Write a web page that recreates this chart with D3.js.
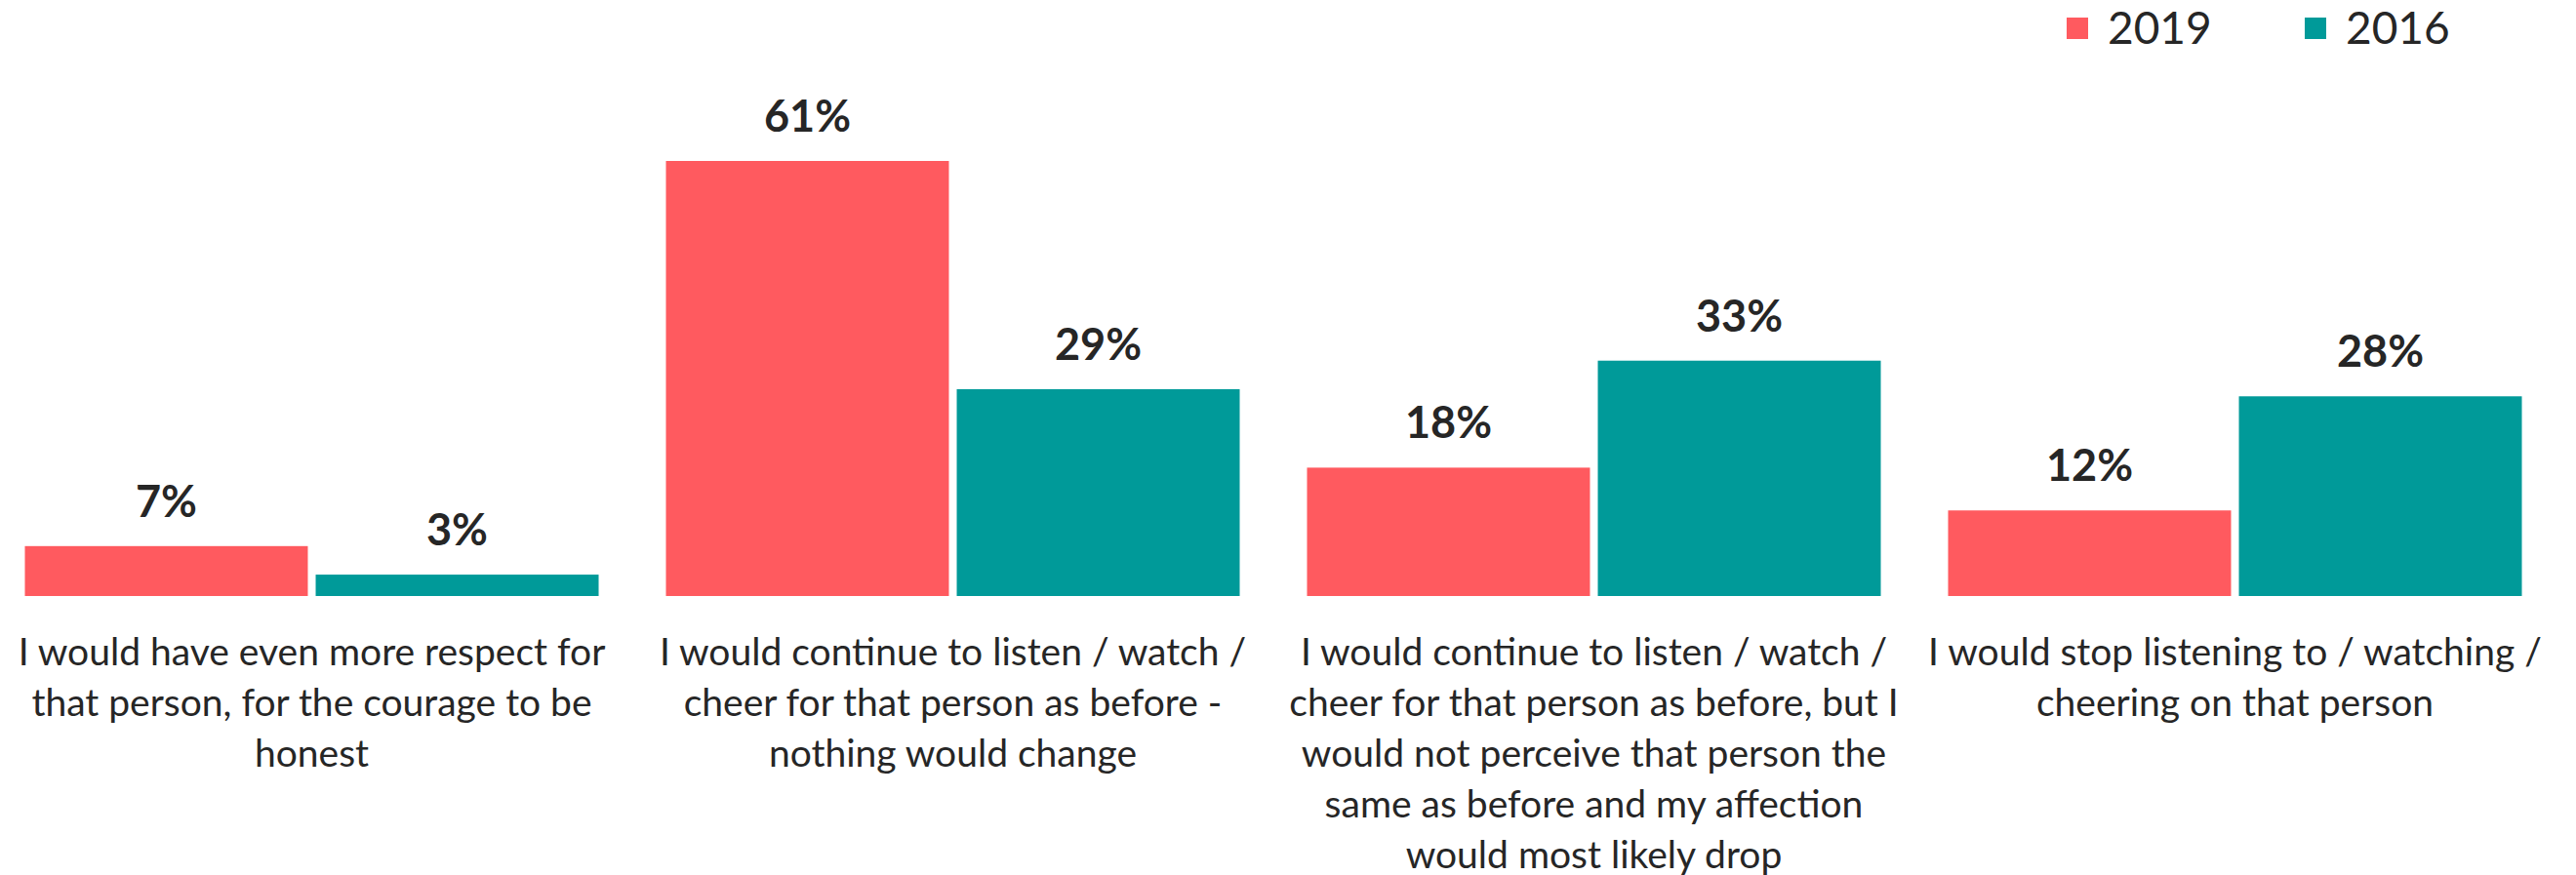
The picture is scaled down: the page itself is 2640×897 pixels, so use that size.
<!DOCTYPE html>
<html>
<head>
<meta charset="utf-8">
<script src="https://cdn.jsdelivr.net/npm/d3@7/dist/d3.min.js"></script>
<style>
  body { margin: 0; background: #fff; }
  text { font-family: Lato, "Noto Sans", sans-serif; fill: #262626; }
</style>
</head>
<body>
<svg class="chart"></svg>
<script>
// chart data
let categories = [
    "I would have even more respect for\nthat person, for the courage to be\nhonest",
    "I would continue to listen / watch /\ncheer for that person as before -\nnothing would change",
    "I would continue to listen / watch /\ncheer for that person as before, but I\nwould not perceive that person the\nsame as before and my affection\nwould most likely drop",
    "I would stop listening to / watching /\ncheering on that person"
];
let years = ["2019", "2016"];
let values2019 = [7, 61, 18, 12];
let values2016 = [3, 29, 33, 28];

function drawChart(){
    let width = 2640,
        height = 897,
        baseline = 611;
    let color = d3.scaleOrdinal().domain(years).range(["#FF5A5F", "#009A99"]);

    let svg = d3.select(".chart")
        .attr("width", width)
        .attr("height", height);

    let rows = categories.map(function(c, i){
        return {name: c, values: [
            {year: "2019", v: values2019[i]},
            {year: "2016", v: values2016[i]}
        ]};
    });

    let x0 = d3.scaleBand()
        .domain(d3.range(categories.length))
        .range([-9, 2619])
        .paddingInner(0.105)
        .paddingOuter(0.0525);
    let x1 = d3.scaleBand()
        .domain(years)
        .range([0, x0.bandwidth()])
        .paddingInner(0.027);
    let y = d3.scaleLinear()
        .domain([0, d3.max(values2019.concat(values2016))])
        .range([baseline, 165]);

    let group = svg.selectAll(".group")
        .data(rows)
        .join("g")
        .attr("class", "group")
        .attr("transform", (d, i) => "translate(" + x0(i) + ",0)");

    group.selectAll("rect")
        .data(d => d.values)
        .join("rect")
        .attr("x", d => x1(d.year))
        .attr("y", d => y(d.v))
        .attr("width", x1.bandwidth())
        .attr("height", d => baseline - y(d.v))
        .attr("fill", d => color(d.year));

    group.selectAll(".val")
        .data(d => d.values)
        .join("text")
        .attr("class", "val")
        .attr("x", d => x1(d.year) + x1.bandwidth() / 2)
        .attr("y", d => y(d.v) - 30)
        .attr("text-anchor", "middle")
        .attr("font-size", 45)
        .attr("font-weight", "bold")
        .text(d => d.v + "%");

    // category labels, one tspan per line
    let label = group.append("text")
        .attr("class", "cat")
        .attr("text-anchor", "middle")
        .attr("font-size", 39)
        .attr("y", baseline + 71);
    label.selectAll("tspan")
        .data(d => d.name.split("\n"))
        .join("tspan")
        .attr("x", x0.bandwidth() / 2)
        .attr("dy", (d, i) => i == 0 ? 0 : 52)
        .text(d => d);

    // legend
    let legendX = d3.scaleOrdinal().domain(years).range([2118, 2362]);
    let legend = svg.selectAll(".legend")
        .data(years)
        .join("g")
        .attr("class", "legend")
        .attr("transform", d => "translate(" + legendX(d) + ",0)");
    legend.append("rect")
        .attr("y", 18)
        .attr("width", 22)
        .attr("height", 22)
        .attr("fill", d => color(d));
    legend.append("text")
        .attr("x", 42)
        .attr("y", 45)
        .attr("font-size", 46)
        .text(d => d);
}

drawChart();
</script>
</body>
</html>
